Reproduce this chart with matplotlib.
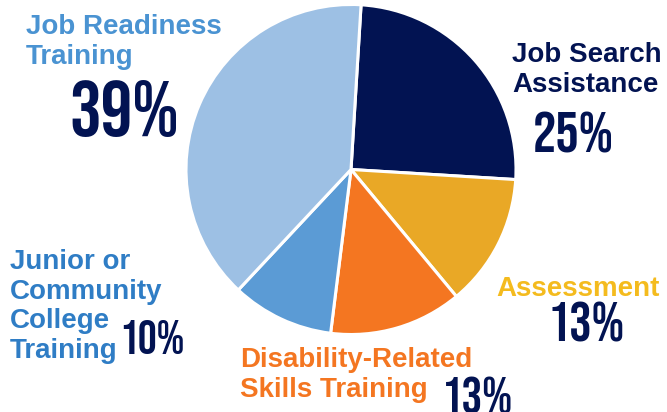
import matplotlib
matplotlib.use("Agg")
import matplotlib.pyplot as plt

# ---- data ----
categories = ["Job Search\nAssistance", "Assessment", "Disability-Related\nSkills Training",
              "Junior or\nCommunity\nCollege\nTraining", "Job Readiness\nTraining"]
values = [25, 13, 13, 10, 39]
pct_labels = ["25%", "13%", "13%", "10%", "39%"]

wedge_colors = ["#021352", "#E9A826", "#F47621", "#5B9BD5", "#9DC0E4"]
label_colors = ["#021352", "#F4BB1E", "#F47621", "#2F7DC5", "#4A93D2"]

W, H = 667, 412
fig = plt.figure(figsize=(W / 100, H / 100), dpi=100)
ax = fig.add_axes([0, 0, 1, 1])

ax.pie(values, colors=wedge_colors, startangle=86.5, counterclock=False,
       center=(351, H - 169.5), radius=165, frame=True,
       wedgeprops=dict(edgecolor="white", linewidth=2.2))
ax.set_xlim(0, W)
ax.set_ylim(0, H)
ax.axis("off")

label_font = ["Liberation Sans", "Arimo", "DejaVu Sans"]
pct_font = ["Bebas Neue", "Oswald", "DejaVu Sans"]

# label positions (left x, last-line baseline y from top)
label_pos = [(512, 92), (496, 296), (240, 397), (10, 358), (26, 64)]
pct_pos = [(533, 152), (548, 342), (442, 414), (119, 354), (69, 136)]
pct_sizes = [42, 40, 37, 34, 57]

for cat, lc, (x, y) in zip(categories, label_colors, label_pos):
    ax.text(x, H - y, cat, color=lc, fontsize=20, fontweight="bold",
            family=label_font, ha="left", va="baseline", linespacing=1.18)

for p, (x, y), s in zip(pct_labels, pct_pos, pct_sizes):
    ax.text(x, H - y, p, color="#021352", fontsize=s, family=pct_font,
            ha="left", va="baseline")

fig.savefig("out.png", dpi=100)
